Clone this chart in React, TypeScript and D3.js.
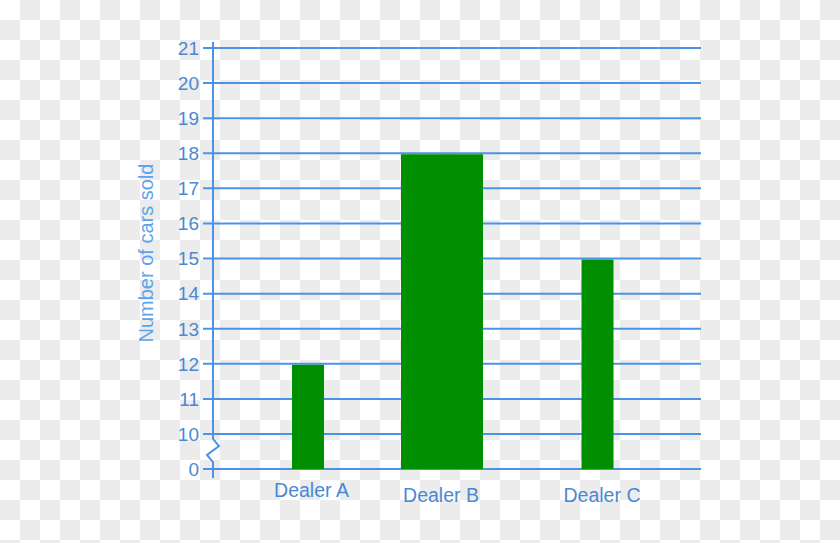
import * as React from "react";
import * as d3 from "d3";

const dealers = ["Dealer A", "Dealer B", "Dealer C"];
const carsSold = [12, 18, 15];
const yTicks = [0, 10, 11, 12, 13, 14, 15, 16, 17, 18, 19, 20, 21];

const W = 840;
const H = 543;
const LINE = "#4a93e6";
const TEXT = "#4a88d2";
const TITLE = "#5ca4ea";
const GREEN = "#008f00";

// bar layout (centre and width per dealer)
const barCenter = d3.scaleOrdinal<string, number>().domain(dealers).range([308, 442, 597.5]);
const barWidth = d3.scaleOrdinal<string, number>().domain(dealers).range([32, 82, 32]);
const labelX = d3.scaleOrdinal<string, number>().domain(dealers).range([311.5, 441, 602]);
const labelY = d3.scaleOrdinal<string, number>().domain(dealers).range([497, 502, 502]);

export default function App() {
  // broken axis: 10..21 linear, 0 sits one step below 10
  const y = d3.scaleLinear().domain([10, 21]).range([434, 48]);
  const yPos = (v: number) => (v < 10 ? y(9) : y(v));

  const axisX = 213;
  const gridX0 = 203;
  const gridX1 = 701;

  const breakPath = d3.line()([
    [axisX, 42],
    [axisX, 439],
    [axisX + 6, 446],
    [axisX - 6, 455],
    [axisX, 462],
    [axisX, 478],
  ]);

  return (
    <svg
      width={W}
      height={H}
      style={{ position: "absolute", left: 0, top: 0 }}
      fontFamily="'Liberation Sans', Arial, Helvetica, sans-serif"
    >
      <defs>
        <pattern id="checker" width={40} height={40} patternUnits="userSpaceOnUse">
          <rect width={40} height={40} fill="#ffffff" />
          <rect x={20} y={0} width={20} height={20} fill="#ececec" />
          <rect x={0} y={20} width={20} height={20} fill="#ececec" />
        </pattern>
      </defs>
      <rect width={W} height={H} fill="url(#checker)" />

      {yTicks.map((t) => (
        <line
          key={"g" + t}
          x1={gridX0}
          x2={gridX1}
          y1={yPos(t)}
          y2={yPos(t)}
          stroke={LINE}
          strokeWidth={2}
        />
      ))}

      {dealers.map((d, i) => (
        <rect
          key={d}
          x={barCenter(d) - barWidth(d) / 2}
          y={yPos(carsSold[i]) + 1}
          width={barWidth(d)}
          height={yPos(0) - yPos(carsSold[i]) - 1}
          fill={GREEN}
        />
      ))}

      <path d={breakPath ?? ""} fill="none" stroke={LINE} strokeWidth={2} />

      {yTicks.map((t) => (
        <text
          key={"t" + t}
          x={199}
          y={yPos(t)}
          dy="0.36em"
          textAnchor="end"
          fontSize={19}
          fill={TEXT}
        >
          {t}
        </text>
      ))}

      {dealers.map((d) => (
        <text
          key={"l" + d}
          x={labelX(d)}
          y={labelY(d)}
          textAnchor="middle"
          fontSize={19.5}
          fill={TEXT}
        >
          {d}
        </text>
      ))}

      <text
        transform="translate(153,253) rotate(-90)"
        textAnchor="middle"
        fontSize={20}
        fill={TITLE}
      >
        Number of cars sold
      </text>
    </svg>
  );
}
